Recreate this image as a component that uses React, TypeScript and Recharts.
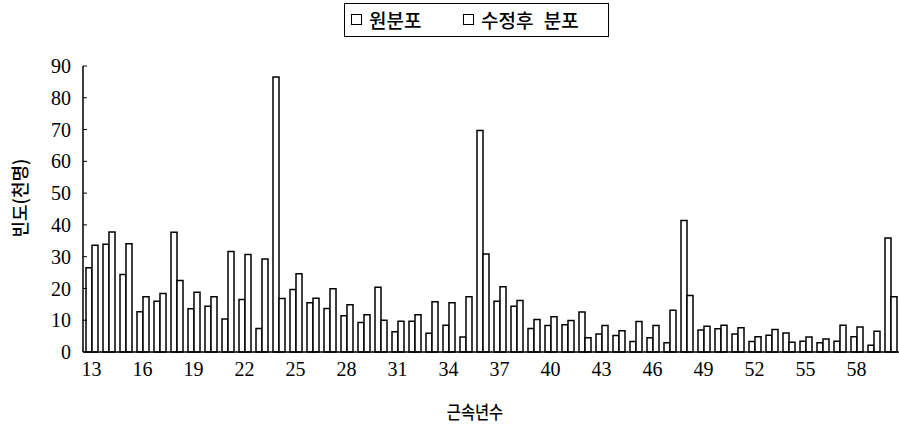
import React from 'react';
import { BarChart, Bar, XAxis, YAxis } from 'recharts';

const years = [
  13, 14, 15, 16, 17, 18, 19, 20, 21, 22, 23, 24, 25, 26, 27, 28,
  29, 30, 31, 32, 33, 34, 35, 36, 37, 38, 39, 40, 41, 42, 43, 44,
  45, 46, 47, 48, 49, 50, 51, 52, 53, 54, 55, 56, 57, 58, 59, 60,
];

// 원분포
const original = [
  26.5, 33.9, 24.4, 12.7, 16.0, 37.7, 13.6, 14.4, 10.4, 16.5, 7.4, 86.5, 19.7, 15.5, 13.7, 11.4,
  9.3, 20.4, 6.4, 9.7, 5.9, 8.4, 4.7, 69.7, 16.0, 14.4, 7.4, 8.3, 8.6, 12.6, 5.7, 5.2,
  3.3, 4.5, 2.9, 41.4, 6.9, 7.3, 5.7, 3.3, 5.3, 6.0, 3.4, 2.9, 3.4, 4.8, 2.1, 35.9,
];

// 수정후 분포
const adjusted = [
  33.6, 37.8, 34.1, 17.4, 18.4, 22.5, 18.8, 17.4, 31.6, 30.7, 29.3, 16.8, 24.6, 16.9, 19.9, 14.9,
  11.7, 10.0, 9.7, 11.7, 15.8, 15.5, 17.4, 30.8, 20.5, 16.2, 10.2, 11.1, 9.9, 4.5, 8.3, 6.7,
  9.6, 8.3, 13.1, 17.8, 8.1, 8.4, 7.6, 4.8, 7.1, 3.1, 4.7, 4.1, 8.4, 7.9, 6.5, 17.4,
];

const yTicks = [0, 10, 20, 30, 40, 50, 60, 70, 80, 90];

const data = years.map((y, i) => ({ year: y, original: original[i], adjusted: adjusted[i] }));

const serif = '"Liberation Serif", "DejaVu Serif", serif';
const korean = '"Noto Sans CJK KR", sans-serif';

const Swatch = ({ left }: { left: number }) => (
  <div
    style={{
      position: 'absolute',
      left,
      top: 10,
      width: 11,
      height: 11,
      border: '1.5px solid #000',
      boxSizing: 'border-box',
      background: '#fff',
    }}
  />
);

export default function App() {
  return (
    <div style={{ position: 'absolute', left: 0, top: 0, width: 899, height: 429, background: '#fff' }}>
      <BarChart
        width={899}
        height={429}
        data={data}
        margin={{ top: 66, right: 0, bottom: 0, left: 0 }}
        barGap={0}
        barSize={6}
      >
        <XAxis
          dataKey="year"
          height={77}
          interval={2}
          tickSize={0}
          tickMargin={10}
          axisLine={{ stroke: '#000', strokeWidth: 1.5 }}
          tick={{ fill: '#000', fontSize: 20, fontFamily: serif }}
        />
        <YAxis
          width={83}
          domain={[0, 90]}
          ticks={yTicks}
          interval={0}
          tickSize={-4}
          tickMargin={16}
          axisLine={{ stroke: '#000', strokeWidth: 1.5 }}
          tickLine={{ stroke: '#000', strokeWidth: 1 }}
          tick={{ fill: '#000', fontSize: 20, fontFamily: serif }}
        />
        <Bar dataKey="original" name="원분포" fill="#fff" stroke="#000" strokeWidth={1.5} isAnimationActive={false} />
        <Bar dataKey="adjusted" name="수정후 분포" fill="#fff" stroke="#000" strokeWidth={1.5} isAnimationActive={false} />
      </BarChart>

      {/* legend box */}
      <div
        style={{
          position: 'absolute',
          left: 344,
          top: 3,
          width: 265,
          height: 34,
          border: '1.5px solid #000',
          boxSizing: 'border-box',
          fontFamily: korean,
          fontSize: 19,
          fontWeight: 500,
          color: '#000',
        }}
      >
        <Swatch left={6} />
        <span style={{ position: 'absolute', left: 24, top: 2, lineHeight: '27px', whiteSpace: 'nowrap' }}>원분포</span>
        <Swatch left={118} />
        <span style={{ position: 'absolute', left: 136, top: 2, lineHeight: '27px', whiteSpace: 'nowrap', wordSpacing: 6 }}>
          수정후 분포
        </span>
      </div>

      {/* axis titles */}
      <div
        style={{
          position: 'absolute',
          left: 19,
          top: 198,
          transform: 'translate(-50%, -50%) rotate(-90deg)',
          fontFamily: korean,
          fontSize: 18,
          fontWeight: 500,
          whiteSpace: 'nowrap',
          color: '#000',
        }}
      >
        빈도(천명)
      </div>
      <div
        style={{
          position: 'absolute',
          left: 475,
          top: 411,
          transform: 'translate(-50%, -50%) scaleX(0.85)',
          fontFamily: korean,
          fontSize: 18,
          fontWeight: 500,
          whiteSpace: 'nowrap',
          color: '#000',
        }}
      >
        근속년수
      </div>
    </div>
  );
}
